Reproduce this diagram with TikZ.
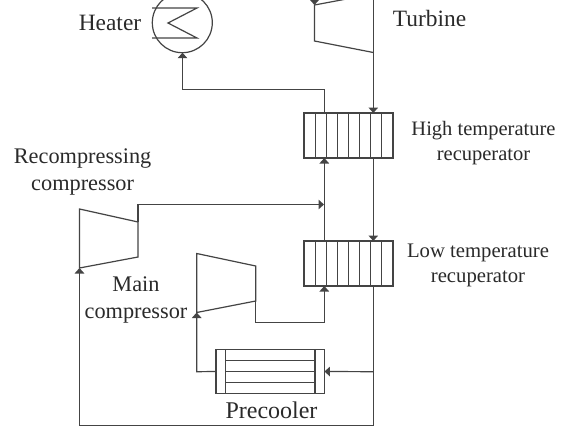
\documentclass[tikz,border=0pt]{standalone}
\usepackage{fontspec}
\setmainfont{Liberation Serif}
\usetikzlibrary{arrows.meta,calc}
\definecolor{ink}{HTML}{444444}
\definecolor{txt}{HTML}{2A2A2A}
\tikzset{
  pipe/.style={draw=ink,line width=1.2pt,line join=miter},
  flow/.style={pipe,-{Triangle[length=5.5pt,width=9.5pt]}},
  core/.style={draw=ink,line width=1.2pt,minimum width=89pt,minimum height=45pt,inner sep=0pt,outer sep=0pt},
  heatc/.style={draw=ink,line width=1.2pt,circle,minimum size=60pt,inner sep=0pt,outer sep=0pt},
  cooler/.style={draw=ink,line width=1.2pt,minimum width=108.5pt,minimum height=44pt,inner sep=0pt,outer sep=0pt},
  lab/.style={text=txt,inner sep=0pt,align=center,anchor=base}
}
\begin{document}
\begin{tikzpicture}[x=1pt,y=-1pt]
\useasboundingbox (0,0) rectangle (574,434);
\fill[white] (0,0) rectangle (574,434);
\clip (0,0) rectangle (574,434);

% Turbine and compressor outlines
\coordinate (tTL) at (314.5,5);   \coordinate (tTR) at (373.3,-6);
\coordinate (tBL) at (314.5,41);  \coordinate (tBR) at (373.3,52.5);
\draw[pipe] (tTR) -- (tTL) -- (tBL) -- (tBR);
\coordinate (rTL) at (79.5,209);  \coordinate (rTR) at (138,222);
\coordinate (rBL) at (79.5,268);  \coordinate (rBR) at (138,257);
\draw[pipe] (rBL) -- (rTL) -- (rTR) -- (rBR) -- cycle;
\coordinate (mTL) at (196.7,253.5); \coordinate (mTR) at (255.7,266);
\coordinate (mBL) at (196.7,312.5); \coordinate (mBR) at (255.7,301);
\draw[pipe] (mBL) -- (mTL) -- (mTR) -- (mBR) -- cycle;

% Heater
\node[heatc] (heater) at (182.3,22.7) {};
\coordinate (z1) at (152,8); \coordinate (z2) at (197,8);
\coordinate (z3) at (168,23); \coordinate (z4) at (197,38);
\coordinate (z5) at (152,38);
\draw[pipe] (z1) -- (z2) -- (z3) -- (z4) -- (z5);

% Recuperators
\node[core] (ht) at (348.5,135.5) {};
\node[core] (lt) at (348.5,263.5) {};
\foreach \r in {ht,lt}
  \foreach \f in {1,...,7}
    \draw[pipe] ($(\r.north west)!\f/8!(\r.north east)$) -- ($(\r.south west)!\f/8!(\r.south east)$);

% Precooler
\node[cooler] (pre) at (270.2,371.5) {};
\coordinate (pa) at (225.7,349.5); \coordinate (pb) at (225.7,393.5);
\coordinate (pc) at (315,349.5);   \coordinate (pd) at (315,393.5);
\draw[pipe] (pa) -- (pb) (pc) -- (pd);
\coordinate (h1a) at (225.7,360.7); \coordinate (h1b) at (315,360.7);
\coordinate (h2a) at (225.7,371.7); \coordinate (h2b) at (315,371.7);
\coordinate (h3a) at (225.7,382.3); \coordinate (h3b) at (315,382.3);
\draw[pipe] (h1a) -- (h1b) (h2a) -- (h2b) (h3a) -- (h3b);

% Connector anchors
\coordinate (hotIn) at (324.3,113);
\coordinate (hotOutB) at (324.3,158);
\coordinate (ltTopL) at (324.3,241);
\coordinate (ltBotL) at (324.3,286);
\coordinate (hotR) at (373.3,113);
\coordinate (hotRB) at (373.3,158);
\coordinate (ltTopR) at (373.3,241);
\coordinate (ltBotR) at (373.3,286);
\coordinate (heatB) at (182.5,52.7);
\coordinate (b1) at (182.5,89.4);
\coordinate (b2) at (324.3,89.4);
\coordinate (rOut) at (138,204.5);
\coordinate (mOut) at (255.7,322.4);
\coordinate (mOut2) at (324.3,322.4);
\coordinate (preL) at (196.7,371.7);
\coordinate (preR) at (373.3,371.7);
\coordinate (bot1) at (373.3,425.7);
\coordinate (bot2) at (79.5,425.7);
\coordinate (tTop) at (373.3,-9);
\coordinate (tIn) at (314.5,-4);
\coordinate (jIn) at (324,204.5);

% Connectors
\draw[flow] (tTop) -- (hotR);
\draw[flow] (hotRB) -- (ltTopR);
\draw[pipe] (ltBotR) -- (bot1) -- (bot2);
\draw[flow] (bot2) -- (rBL);
\draw[flow] (preR) -- (pre.east);
\draw[flow] (hotIn) -- (b2) -- (b1) -- (heatB);
\draw[flow] (ltTopL) -- (hotOutB);
\draw[flow] (rTR) -- (rOut) -- (jIn);
\draw[flow] (mBR) -- (mOut) -- (mOut2) -- (ltBotL);
\draw[flow] (pre.west) -- (preL) -- (mBL);
\draw[flow] (tIn) -- (tTL);

% Labels
\node[lab,font=\fontsize{23.4}{24}\selectfont] (lHeater) at (110,30.7) {Heater};
\node[lab,font=\fontsize{23.4}{24}\selectfont] (lTurb) at (429.5,26) {Turbine};
\node[lab,font=\fontsize{20.5}{25}\selectfont] (lHigh) at (483.5,160) {High temperature\\recuperator};
\node[lab,font=\fontsize{20.7}{25}\selectfont] (lLow) at (478,282.7) {Low temperature\\recuperator};
\node[lab,font=\fontsize{22.3}{27.3}\selectfont] (lRec) at (82.6,190.7) {Recompressing\\compressor};
\node[lab,font=\fontsize{22.3}{26.6}\selectfont] (lMain) at (136,318.3) {Main\\compressor};
\node[lab,font=\fontsize{24}{24}\selectfont] (lPre) at (271.5,418.5) {Precooler};
\end{tikzpicture}
\end{document}
